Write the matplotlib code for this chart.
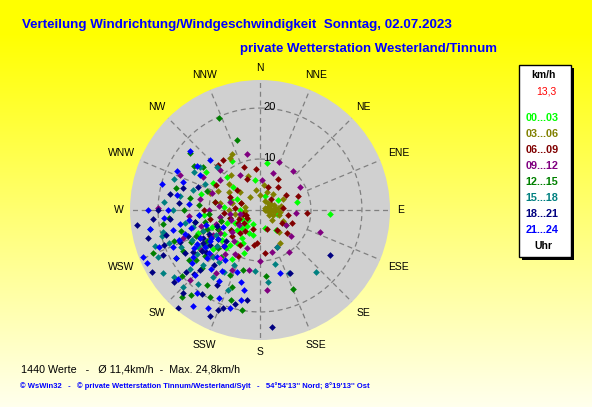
import numpy as np
import matplotlib
matplotlib.use('Agg')
import matplotlib.pyplot as plt
from matplotlib.patches import Rectangle

# ---------------- data ----------------
title1 = "Verteilung Windrichtung/Windgeschwindigkeit  Sonntag, 02.07.2023"
title2 = "private Wetterstation Westerland/Tinnum"
footer1 = "1440 Werte   -   \u00d8 11,4km/h  -  Max. 24,8km/h"
footer2 = ("\u00a9 WsWin32   -   \u00a9 private Wetterstation Tinnum/Westerland/Sylt   -   "
           "54\u00b054'13'' Nord; 8\u00b019'13'' Ost")
directions = ["N", "NNE", "NE", "ENE", "E", "ESE", "SE", "SSE",
              "S", "SSW", "SW", "WSW", "W", "WNW", "NW", "NNW"]
ring_values = [10, 20]
legend_unit = "km/h"
legend_value = "13,3"
legend_hours = ["00...03", "03...06", "06...09", "09...12",
                "12...15", "15...18", "18...21", "21...24"]
legend_foot = "Uhr"
hour_colors = ["#00ff00", "#808000", "#800000", "#800080",
               "#008000", "#008080", "#000080", "#0000ff"]

# (direction in degrees, speed km/h) per 3-hour block
g00_03 = [(8,9.3),(93,13.7),(78,7.4),(103,3.4),(165,3.6),(196,5.1),(207,7.3),(221,9),(300,10.6),
          (315,9.1),(290,6),(270,4),(255,6),(245,9),(235,7),(240,11),(230,12),(250,10),(260,8),
          (225,5),(215,8),(200,9),(280,9),(285,12),(305,13),(330,11),(265,11),(230,3),(60,4),
          (120,6),(140,5),(210,11),(245,4),(275,7),(295,5),(310,7),(350,6),(20,3),(250,13),(238,14),
          (205,5),(212,6.5),(218,4),(228,6),(236,8.5),(242,5.5),(222,10),(232,9.5),(208,3),(248,7)]
g03_06 = [(80,2),(90,2.5),(95,3),(100,2),(85,3.5),(70,3),(75,1.5),(110,2.8),(60,2.5),(95,4),
          (105,3.8),(120,2),(50,2),(30,2),(21,3.8),(40,4),(130,3),(140,5.7),(149,7.6),(330,11.8),
          (333,12.3),(289,10.3),(312,5.3),(322,3.2),(281,3),(284,5.7),(251,4.1),(300,7),(295,9),
          (270,6),(260,5),(310,8),(320,9),(340,7),(280,8),(350,4),(0,3),(10,5),(65,5),(115,5),
          (255,8),(265,3),(290,4),(88,1),(78,4.2),(92,1.2),(68,2),(82,3),(98,1.6),(72,1)]
g06_09 = [(94,9.3),(112,6.8),(85,4.5),(19,4.8),(38,5.7),(337,6.6),(317,12),(323,12.2),(293,6.4),
          (173,8.5),(185,6.5),(140,5.1),(121,5),(60,6),(70,8),(100,5.5),(130,7),(45,3),(250,3),
          (240,5),(235,7),(245,9),(255,6),(265,7),(275,5),(230,4),(220,6),(210,8),(260,10),(280,9),
          (290,4),(300,10),(310,6),(270,11),(225,10),(200,4),(190,7),(340,9),(355,8),(30,7),
          (160,4),(205,10),(250,12),(238,3),(248,4.5),(258,3.5),(228,7.5),(215,5),(242,11)]
g09_12 = [(22,10.2),(347,11.3),(19,7.7),(4,5.9),(110,12.5),(175,15.7),(294,17.1),(271,20),
          (307,9.8),(155,8),(164,8.6),(199,7.9),(225,19.4),(130,8),(120,6),(95,7),(60,9),(40,10),
          (330,8),(315,11),(300,13),(280,12),(270,10),(260,8),(250,6),(240,9),(230,11),(245,13),
          (255,12),(235,5),(220,8),(210,10),(265,14),(275,8),(285,6),(290,10),(205,13),(215,15),
          (250,16),(260,4),(180,10),(190,12),(145,10),(232,7),(242,10.5),(252,9),(226,13),(236,14),
          (218,11),(262,6)]
g12_15 = [(336,19.7),(342,14.4),(309,17.7),(157,16.8),(190,19.9),(262,19.2),(248,22.6),
          (219,21.4),(210,19.7),(198,18.6),(196,12.2),(307,14.1),(304,15.5),(240,12),(245,15),
          (235,17),(230,14),(250,11),(255,16),(260,13),(265,10),(270,15),(275,12),(225,16),
          (215,18),(220,12),(230,20),(240,19),(250,18),(280,14),(285,17),(290,11),(205,14),
          (200,16),(245,9),(235,10),(255,8),(265,18),(222,23),(175,13),(238,13),(228,11),
          (248,13.5),(258,11),(232,16),(242,17)]
g15_18 = [(138,16.3),(174,14.2),(155,13.6),(155,8),(251,21.8),(232,21.5),(225,21.3),(237,22.7),
          (202,17),(306,14.5),(287,13.7),(257,19.6),(240,14),(245,17),(250,12),(235,15),(230,18),
          (260,15),(265,12),(270,17),(225,13),(215,16),(210,14),(220,19),(255,20),(280,16),
          (295,12),(300,15),(240,10),(230,11),(250,19),(205,12),(185,12),(165,11),(245,22),
          (275,19),(260,22),(290,18),(315,12),(236,12.5),(246,14.5),(226,15.5),(256,13.5),(218,13)]
g18_21 = [(123,16.3),(174,23),(220,25),(263,24.3),(256,22.6),(240,24.5),(223,22.2),(245,21),
          (264,17.8),(286,15.7),(203,21.3),(201,20.5),(155,13.7),(188,17.8),(225,16.6),(230,19),
          (235,14),(240,17),(250,15),(255,19),(260,13),(245,11),(235,12),(215,20),(210,17),
          (220,14),(230,22),(250,20),(270,20),(275,16),(280,18),(265,21),(240,13),(228,9),
          (250,9),(290,13),(205,23),(195,19),(238,15.5),(248,17),(232,13.5),(244,12.5),(226,18)]
g21_24 = [(315,13.9),(300,13.6),(248,24.8),(245,24.5),(280,16.5),(208,21.8),(197,20),(192,18.1),
          (162,13),(195,14.7),(191,16),(217,20.5),(240,15),(245,13),(250,17),(255,14),(260,16),
          (265,19),(270,18),(275,14),(235,16),(230,13),(225,18),(220,15),(215,12),(210,16),
          (205,19),(240,19),(250,21),(260,22),(230,21),(235,10),(245,8),(255,11),(265,12),
          (285,20),(290,16),(295,18),(305,15),(270,22),(225,10),(240,11),(215,23),(200,13),
          (310,18),(228,14),(236,13),(242,14),(252,15.5),(232,17),(222,12.5),(247,18.5),
          (257,17.5),(238,11.5),(212,14),(262,14)]
groups = [g00_03, g03_06, g06_09, g09_12, g12_15, g15_18, g18_21, g21_24]
mean_dir, mean_speed = 220, 12.3

# ---------------- figure ----------------
W, H = 592, 407
fig = plt.figure(figsize=(W / 100, H / 100), dpi=100)

def P(x, y):
    return x / W, 1 - y / H

# background gradient (yellow -> pale)
bg = fig.add_axes([0, 0, 1, 1], zorder=0)
t = np.linspace(0, 1, H)
b = np.clip((t - 0.08) / 0.92, 0, 1) * 0.93
img = np.ones((H, 1, 3))
img[:, 0, 2] = b
bg.imshow(img, aspect='auto', extent=[0, 1, 0, 1], interpolation='bilinear')
bg.set_axis_off()

# polar axes
cx, cy, R = 260, 210, 130
RMAX = 25.5
ax = fig.add_axes([(cx - R) / W, (H - cy - R) / H, 2 * R / W, 2 * R / H],
                  projection='polar', zorder=1)
ax.set_theta_zero_location('N')
ax.set_theta_direction(-1)
ax.set_ylim(0, RMAX)
ax.set_facecolor('#d0d0d0')
ax.grid(False)
ax.set_xticks([])
ax.set_yticks([])
ax.spines['polar'].set_visible(False)

gc = '#808080'
dash = (0, (4, 3))
for k in range(16):
    th = np.deg2rad(k * 22.5)
    r0 = 0 if k % 4 == 0 else ring_values[0]
    ax.plot([th, th], [r0, RMAX], ls=dash, color=gc, lw=0.9, zorder=2)
thc = np.linspace(0, 2 * np.pi, 400)
for rv in ring_values:
    ax.plot(thc, np.full_like(thc, rv), ls=dash, color=gc, lw=0.9, zorder=2)

for grp, col in zip(groups, hour_colors):
    d = np.deg2rad([p[0] for p in grp])
    s = [p[1] for p in grp]
    ax.plot(d, s, 'D', ms=3.4, mew=0, color=col, zorder=3)
ax.plot([np.deg2rad(mean_dir)], [mean_speed], 'D', ms=2.8, mew=0, color='#ff00ff', zorder=4)

pxu = R / RMAX
for rv in ring_values:
    fig.text(*P(cx + 3, cy - rv * pxu - 1), str(rv), fontsize=8, ha='left', va='center',
             family='Liberation Sans', zorder=5)

for k, name in enumerate(directions):
    th = np.deg2rad(k * 22.5)
    hw = 4.0 * len(name)
    rr = 137 + hw * abs(np.sin(th)) + 5 * abs(np.cos(th))
    x = cx + rr * np.sin(th)
    y = cy - rr * np.cos(th)
    fig.text(*P(x, y), name, fontsize=7.5, ha='center', va='center',
             family='Liberation Sans', color='black')

renderer = fig.canvas.get_renderer()

def fit_text(x0, x1, y, s, **kw):
    tt = fig.text(*P(x0, y), s, ha='left', va='center', **kw)
    bb = tt.get_window_extent(renderer)
    tt.set_fontsize(tt.get_fontsize() * (x1 - x0) / bb.width)
    return tt

blue = '#0000ff'
fit_text(22, 452, 25, title1, fontsize=10, fontweight='bold', color=blue, family='Liberation Sans')
fit_text(240, 497, 49, title2, fontsize=10, fontweight='bold', color=blue, family='Liberation Sans')
fit_text(21, 240, 369, footer1, fontsize=8, color='black', family='Liberation Sans')
fit_text(20, 374, 386, footer2, fontsize=6, fontweight='bold', color=blue, family='Liberation Sans')

# legend box
fig.patches.append(Rectangle(P(522, 260), 52 / W, 192 / H, transform=fig.transFigure,
                             facecolor='black', edgecolor='none', zorder=5))
fig.patches.append(Rectangle(P(519, 257), 52 / W, 192 / H, transform=fig.transFigure,
                             facecolor='white', edgecolor='black', lw=1, zorder=6))
fig.text(*P(543, 75), legend_unit, fontsize=7.5, fontweight='bold', ha='center', va='center',
         family='Liberation Sans', zorder=7)
fig.text(*P(556, 92), legend_value, fontsize=7.5, color='red', ha='right', va='center',
         family='Liberation Sans', zorder=7)
for i, (lab, col) in enumerate(zip(legend_hours, hour_colors)):
    fig.text(*P(542, 118 + 16 * i), lab, fontsize=7.8, fontweight='bold', color=col,
             ha='center', va='center', family='Liberation Sans', zorder=7)
fig.text(*P(543, 246), legend_foot, fontsize=7.5, fontweight='bold', ha='center', va='center',
         family='Liberation Sans', zorder=7)

fig.savefig('out.png', dpi=100)
